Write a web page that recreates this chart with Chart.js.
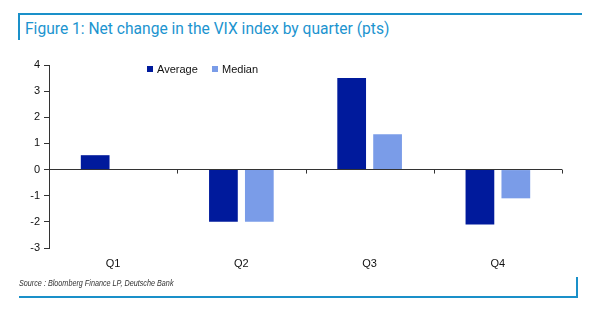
<!DOCTYPE html>
<html>
<head>
<meta charset="utf-8">
<script src="https://cdn.jsdelivr.net/npm/chart.js@4.4.1/dist/chart.umd.min.js"></script>
<style>
  html, body { margin: 0; padding: 0; background: #fff; }
  #page { position: relative; width: 610px; height: 335px; overflow: hidden; font-family: "Liberation Sans", Arial, sans-serif; }
  .frame-top { position: absolute; left: 18px; top: 13px; width: 564px; height: 2px; background: #1a90c9; }
  .frame-left { position: absolute; left: 18px; top: 13px; width: 2px; height: 27px; background: #1a90c9; }
  .frame-bottom { position: absolute; left: 19px; top: 296px; width: 559px; height: 2px; background: #1a90c9; }
  .frame-right { position: absolute; left: 576px; top: 277px; width: 2px; height: 21px; background: #1a90c9; }
  #title { position: absolute; left: 25px; top: 20px; font-family: Roboto, "Liberation Sans", sans-serif; font-size: 15.6px; color: #1c94cf; white-space: nowrap; }
  #source { position: absolute; left: 19px; top: 278px; font-family: "Liberation Sans Narrow", "Liberation Sans", sans-serif; font-style: italic; font-size: 8.5px; color: #333; white-space: nowrap; transform: scaleX(0.85); transform-origin: 0 0; }
  #chartBox { position: absolute; left: 0; top: 0; width: 610px; height: 290px; }
  #legend { position: absolute; left: 147px; top: 63px; font-size: 11px; color: #111; white-space: nowrap; }
  #legend .item { position: absolute; top: 0; }
  #legend .sw { display: inline-block; width: 6px; height: 6px; margin-right: 4px; vertical-align: 1px; }
</style>
</head>
<body>
<div id="page">
  <div class="frame-top"></div>
  <div class="frame-left"></div>
  <div id="title">Figure 1: Net change in the VIX index by quarter (pts)</div>
  <div id="chartBox"><canvas id="c"></canvas></div>
  <div id="legend"></div>
  <div id="source">Source : Bloomberg Finance LP, Deutsche Bank</div>
  <div class="frame-bottom"></div>
  <div class="frame-right"></div>
</div>
<script>
  const quarters = ['Q1', 'Q2', 'Q3', 'Q4'];
  const averageChange = [0.55, -2.0, 3.5, -2.1];
  const medianChange = [0.0, -2.0, 1.35, -1.1];
  const yTicks = [-3, -2, -1, 0, 1, 2, 3, 4];

  const AVG_COLOR = '#001a9c';
  const MED_COLOR = '#7a9ce8';
  const AXIS_COLOR = '#333';

  // small downward ticks on the zero line at each category boundary
  const zeroTicks = {
    id: 'zeroTicks',
    afterDatasetsDraw(chart){
      const x = chart.scales.x, y = chart.scales.y;
      const y0 = y.getPixelForValue(0);
      const ctx = chart.ctx;
      ctx.save();
      ctx.strokeStyle = AXIS_COLOR;
      ctx.lineWidth = 1;
      ctx.beginPath();
      for(let i = 0; i <= quarters.length; i++){
        const px = Math.round(x.getPixelForValue(i - 0.5)) + 0.5;
        ctx.moveTo(px, y0);
        ctx.lineTo(px, y0 + 4);
      }
      ctx.stroke();
      ctx.restore();
    }
  };

  new Chart(document.getElementById('c'), {
    type: 'bar',
    data: {
      labels: quarters,
      datasets: [
        { label: 'Average', data: averageChange, backgroundColor: AVG_COLOR },
        { label: 'Median', data: medianChange, backgroundColor: MED_COLOR }
      ]
    },
    options: {
      responsive: true,
      maintainAspectRatio: false,
      animation: false,
      datasets: { bar: { categoryPercentage: 0.56, barPercentage: 0.8 } },
      layout: { padding: { top: 65, left: 19, right: 48, bottom: 17 } },
      plugins: { legend: { display: false }, tooltip: { enabled: false } },
      scales: {
        x: {
          grid: { display: false, drawTicks: false },
          border: { display: false },
          ticks: { color: '#111', font: { family: 'Liberation Sans', size: 11 }, padding: 9 },
          afterFit(scale){ scale.height = 25; }
        },
        y: {
          min: -3, max: 4,
          afterBuildTicks(scale){ scale.ticks = yTicks.map(v => ({ value: v })); },
          grid: {
            color: ctx => ctx.tick && ctx.tick.value === 0 ? AXIS_COLOR : 'rgba(0,0,0,0)',
            tickColor: AXIS_COLOR,
            tickLength: 5
          },
          border: { color: AXIS_COLOR },
          ticks: { color: '#111', font: { family: 'Liberation Sans', size: 11 }, padding: 4 },
          afterFit(scale){ scale.width = 30; }
        }
      }
    },
    plugins: [zeroTicks]
  });

  // legend sits inside the plot area, left of centre
  const legend = document.getElementById('legend');
  [['Average', AVG_COLOR, 0], ['Median', MED_COLOR, 65]].forEach(([name, col, left]) => {
    const it = document.createElement('span');
    it.className = 'item';
    it.style.left = left + 'px';
    it.innerHTML = '<span class="sw" style="background:' + col + '"></span>' + name;
    legend.appendChild(it);
  });
</script>
</body>
</html>
